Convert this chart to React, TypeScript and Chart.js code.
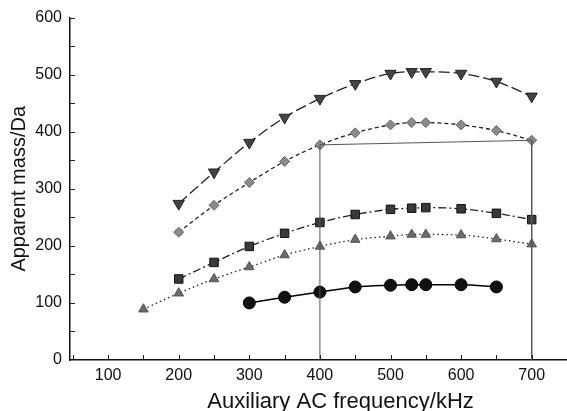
import React, { useEffect, useRef } from "react";
import { Chart, registerables } from "chart.js";

Chart.register(...registerables);

const freqA = [200, 250, 300, 350, 400, 450, 500, 530, 550, 600, 650, 700];
const massTriDown = [274, 329, 381, 425, 458, 484, 502, 505, 505, 502, 488, 462];
const massDiamond = [224, 271, 311, 348, 377, 398, 412, 416, 416, 412, 402, 385];
const massSquare = [142, 171, 199, 222, 241, 255, 264, 266, 267, 265, 257, 246];
const freqB = [150, 200, 250, 300, 350, 400, 450, 500, 530, 550, 600, 650, 700];
const massTriUp = [89, 117, 142, 163, 184, 199, 211, 217, 220, 220, 219, 212, 203];
const freqC = [300, 350, 400, 450, 500, 530, 550, 600, 650];
const massCircle = [100, 110, 119, 128, 131, 132, 132, 132, 128];
const rectFreq = [400, 700];

const xTicks = [100, 200, 300, 400, 500, 600, 700];
const yTicks = [0, 100, 200, 300, 400, 500, 600];

const pts = (xs: number[], ys: number[]) => xs.map((x, i) => ({ x, y: ys[i] }));

const FONT = "'Liberation Sans', Arial, sans-serif";

const tickPlugin = {
  id: "innerTicks",
  afterDraw(chart: any) {
    const ctx = chart.ctx;
    const xs = chart.scales.x;
    const ys = chart.scales.y;
    const area = chart.chartArea;
    ctx.save();
    ctx.strokeStyle = "#222";
    ctx.lineWidth = 1;
    for (let v = 50; v <= 700; v += 50) {
      const px = Math.round(xs.getPixelForValue(v)) + 0.5;
      ctx.beginPath();
      ctx.moveTo(px, area.bottom);
      ctx.lineTo(px, area.bottom - 5);
      ctx.stroke();
    }
    for (let v = 50; v <= 600; v += 50) {
      const py = Math.round(ys.getPixelForValue(v)) + 0.5;
      ctx.beginPath();
      ctx.moveTo(area.left, py);
      ctx.lineTo(area.left + 5, py);
      ctx.stroke();
    }
    // x axis title
    ctx.fillStyle = "#111";
    ctx.font = `22px ${FONT}`;
    ctx.textAlign = "center";
    ctx.textBaseline = "alphabetic";
    ctx.fillText("Auxiliary AC frequency/kHz", (area.left + area.right) / 2 + 22, 408);
    ctx.restore();
  },
};

export default function App() {
  const ref = useRef<HTMLCanvasElement | null>(null);
  useEffect(() => {
    document.body.style.margin = "0";
    const lineCommon = {
      borderColor: "#222",
      borderWidth: 1.3,
      tension: 0.4,
      cubicInterpolationMode: "monotone" as const,
      pointBorderColor: "#222",
      pointBorderWidth: 1,
      showLine: true,
    };
    const chart = new Chart(ref.current!, {
      type: "scatter",
      data: {
        datasets: [
          {
            data: [
              { x: rectFreq[0], y: 0 },
              { x: rectFreq[0], y: massDiamond[freqA.indexOf(rectFreq[0])] },
              { x: rectFreq[1], y: massDiamond[freqA.indexOf(rectFreq[1])] },
              { x: rectFreq[1], y: 0 },
            ],
            showLine: true,
            borderColor: "#555",
            borderWidth: 1,
            pointRadius: 0,
            tension: 0,
          },
          {
            ...lineCommon,
            data: pts(freqA, massTriDown),
            borderDash: [11, 4],
            pointStyle: "triangle",
            rotation: 180,
            pointRadius: 6.5,
            pointBackgroundColor: "#444",
          },
          {
            ...lineCommon,
            data: pts(freqA, massDiamond),
            borderDash: [4, 3],
            pointStyle: "rectRot",
            pointRadius: 5,
            pointBackgroundColor: "#8a8a8a",
            pointBorderColor: "#666",
          },
          {
            ...lineCommon,
            data: pts(freqA, massSquare),
            borderDash: [8, 3, 2, 3],
            pointStyle: "rect",
            pointRadius: 6,
            pointBackgroundColor: "#3a3a3a",
            pointBorderColor: "#111",
          },
          {
            ...lineCommon,
            data: pts(freqB, massTriUp),
            borderDash: [1.5, 3],
            pointStyle: "triangle",
            pointRadius: 5.5,
            pointBackgroundColor: "#6a6a6a",
            pointBorderColor: "#555",
          },
          {
            ...lineCommon,
            data: pts(freqC, massCircle),
            borderColor: "#000",
            borderWidth: 1.5,
            pointStyle: "circle",
            pointRadius: 6,
            pointBackgroundColor: "#111",
            pointBorderColor: "#000",
          },
        ],
      },
      options: {
        responsive: false,
        animation: false,
        layout: { autoPadding: false, padding: { top: 17, right: 0, left: 0, bottom: 0 } },
        plugins: { legend: { display: false }, tooltip: { enabled: false } },
        scales: {
          x: {
            type: "linear",
            min: 46,
            max: 750,
            afterBuildTicks: (s: any) => {
              s.ticks = xTicks.map((v) => ({ value: v }));
            },
            afterFit: (s: any) => {
              s.height = 51;
              s.paddingRight = 0;
            },
            grid: { display: false, drawTicks: false },
            border: { display: true, color: "#111", width: 1.5 },
            ticks: {
              padding: 6,
              color: "#111",
              font: { family: FONT, size: 16 },
              maxRotation: 0,
              autoSkip: false,
            },
            title: { display: false },
          },
          y: {
            type: "linear",
            min: 0,
            max: 600,
            afterBuildTicks: (s: any) => {
              s.ticks = yTicks.map((v) => ({ value: v }));
            },
            afterFit: (s: any) => {
              s.width = 70;
            },
            grid: { display: false, drawTicks: false },
            border: { display: true, color: "#111", width: 1.5 },
            ticks: {
              padding: 8,
              color: "#111",
              font: { family: FONT, size: 16 },
              autoSkip: false,
            },
            title: {
              display: true,
              text: "Apparent mass/Da",
              color: "#111",
              font: { family: FONT, size: 20 },
              padding: { top: 7, bottom: 0 },
            },
          },
        },
      },
      plugins: [tickPlugin],
    });
    return () => chart.destroy();
  }, []);
  return (
    <div style={{ position: "absolute", left: 0, top: 0, width: 567, height: 411 }}>
      <canvas ref={ref} width={567} height={411} />
    </div>
  );
}
